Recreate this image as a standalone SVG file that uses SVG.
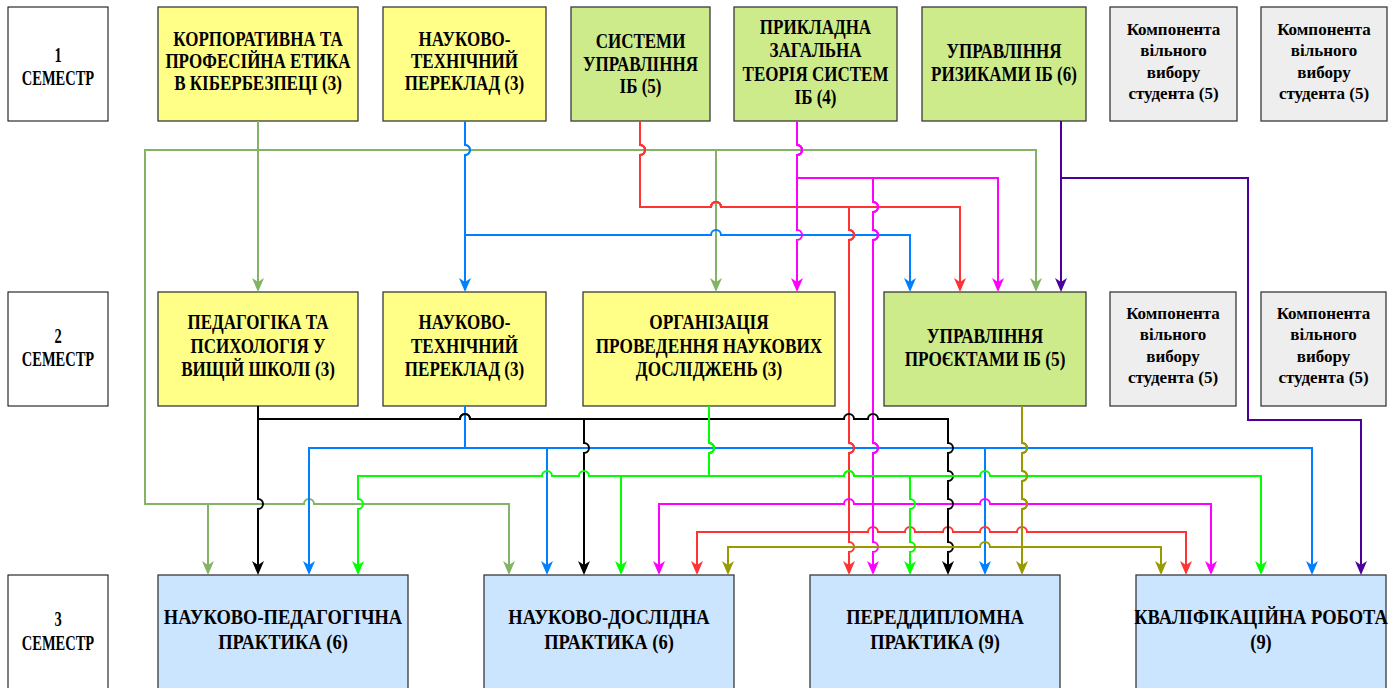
<svg xmlns="http://www.w3.org/2000/svg" width="1397" height="688" viewBox="0 0 1397 688">
<style>
.t{font-family:"Liberation Serif","Times New Roman",serif;font-weight:bold;font-size:21px;text-anchor:middle;fill:#000}
.s{font-family:"Liberation Serif","Times New Roman",serif;font-weight:bold;font-size:17px;text-anchor:middle;fill:#000}
.sem{fill:#fff;stroke:#000;stroke-width:1}
.y{fill:#ffff88;stroke:#36393d;stroke-width:1.3}
.g{fill:#cdeb8b;stroke:#36393d;stroke-width:1.3}
.gr{fill:#eeeeee;stroke:#36393d;stroke-width:1.3}
.b{fill:#cce5ff;stroke:#36393d;stroke-width:1.3}
#edges path{fill:none;stroke-width:2}
.cOG{stroke:#82b366;marker-end:url(#aOG)}
.cB{stroke:#007fff;marker-end:url(#aB)}
.cR{stroke:#ff3333;marker-end:url(#aR)}
.cM{stroke:#ff00ff;marker-end:url(#aM)}
.cP{stroke:#4c0099;marker-end:url(#aP)}
.cK{stroke:#000000;marker-end:url(#aK)}
.cG{stroke:#00ff00;marker-end:url(#aG)}
.cO{stroke:#999900;marker-end:url(#aO)}
</style>
<defs>
<marker id="aOG" markerUnits="userSpaceOnUse" markerWidth="14" markerHeight="12" viewBox="0 0 14 12" refX="11" refY="6" orient="auto"><path d="M0,0 L14,6 L0,12 L4,6 Z" fill="#82b366"/></marker>
<marker id="aB" markerUnits="userSpaceOnUse" markerWidth="14" markerHeight="12" viewBox="0 0 14 12" refX="11" refY="6" orient="auto"><path d="M0,0 L14,6 L0,12 L4,6 Z" fill="#007fff"/></marker>
<marker id="aR" markerUnits="userSpaceOnUse" markerWidth="14" markerHeight="12" viewBox="0 0 14 12" refX="11" refY="6" orient="auto"><path d="M0,0 L14,6 L0,12 L4,6 Z" fill="#ff3333"/></marker>
<marker id="aM" markerUnits="userSpaceOnUse" markerWidth="14" markerHeight="12" viewBox="0 0 14 12" refX="11" refY="6" orient="auto"><path d="M0,0 L14,6 L0,12 L4,6 Z" fill="#ff00ff"/></marker>
<marker id="aP" markerUnits="userSpaceOnUse" markerWidth="14" markerHeight="12" viewBox="0 0 14 12" refX="11" refY="6" orient="auto"><path d="M0,0 L14,6 L0,12 L4,6 Z" fill="#4c0099"/></marker>
<marker id="aK" markerUnits="userSpaceOnUse" markerWidth="14" markerHeight="12" viewBox="0 0 14 12" refX="11" refY="6" orient="auto"><path d="M0,0 L14,6 L0,12 L4,6 Z" fill="#000000"/></marker>
<marker id="aG" markerUnits="userSpaceOnUse" markerWidth="14" markerHeight="12" viewBox="0 0 14 12" refX="11" refY="6" orient="auto"><path d="M0,0 L14,6 L0,12 L4,6 Z" fill="#00ff00"/></marker>
<marker id="aO" markerUnits="userSpaceOnUse" markerWidth="14" markerHeight="12" viewBox="0 0 14 12" refX="11" refY="6" orient="auto"><path d="M0,0 L14,6 L0,12 L4,6 Z" fill="#999900"/></marker>
</defs>
<rect width="1397" height="688" fill="#ffffff"/>

<g id="sem1"><rect class="sem" x="8" y="7" width="100" height="114"/><text class="t" transform="translate(58,0) scale(0.69,1)"><tspan x="0" y="62">1</tspan><tspan x="0" y="85">СЕМЕСТР</tspan></text></g>
<g id="sem2"><rect class="sem" x="8" y="292" width="100" height="114"/><text class="t" transform="translate(58,0) scale(0.69,1)"><tspan x="0" y="343.5">2</tspan><tspan x="0" y="366.5">СЕМЕСТР</tspan></text></g>
<g id="sem3"><rect class="sem" x="8" y="575" width="100" height="130"/><text class="t" transform="translate(58,0) scale(0.69,1)"><tspan x="0" y="626.5">3</tspan><tspan x="0" y="650.5">СЕМЕСТР</tspan></text></g>

<g id="n_ethics"><rect class="y" x="158" y="7" width="200" height="114"/><text class="t" transform="translate(258,0) scale(0.81,1)"><tspan x="0" y="46">КОРПОРАТИВНА ТА</tspan><tspan x="0" y="68.5">ПРОФЕСІЙНА ЕТИКА</tspan><tspan x="0" y="90.5">В КІБЕРБЕЗПЕЦІ (3)</tspan></text></g>
<g id="n_transl1"><rect class="y" x="383" y="7" width="163" height="114"/><text class="t" transform="translate(464.5,0) scale(0.81,1)"><tspan x="0" y="46">НАУКОВО-</tspan><tspan x="0" y="68.5">ТЕХНІЧНИЙ</tspan><tspan x="0" y="90.5">ПЕРЕКЛАД (3)</tspan></text></g>
<g id="n_sys"><rect class="g" x="571" y="7" width="139" height="114"/><text class="t" transform="translate(640.5,0) scale(0.81,1)"><tspan x="0" y="48.5">СИСТЕМИ</tspan><tspan x="0" y="71">УПРАВЛІННЯ</tspan><tspan x="0" y="93.5">ІБ (5)</tspan></text></g>
<g id="n_theory"><rect class="g" x="734" y="7" width="163" height="114"/><text class="t" transform="translate(815.5,0) scale(0.81,1)"><tspan x="0" y="34">ПРИКЛАДНА</tspan><tspan x="0" y="57.5">ЗАГАЛЬНА</tspan><tspan x="0" y="81">ТЕОРІЯ СИСТЕМ</tspan><tspan x="0" y="104.5">ІБ (4)</tspan></text></g>
<g id="n_risk"><rect class="g" x="922" y="7" width="164" height="114"/><text class="t" transform="translate(1004,0) scale(0.81,1)"><tspan x="0" y="58">УПРАВЛІННЯ</tspan><tspan x="0" y="81">РИЗИКАМИ ІБ (6)</tspan></text></g>
<g id="n_free1a"><rect class="gr" x="1110" y="7" width="127" height="114"/><text class="s"><tspan x="1173.5" y="34.5">Компонента</tspan><tspan x="1173.5" y="56">вільного</tspan><tspan x="1173.5" y="77.5">вибору</tspan><tspan x="1173.5" y="98.5">студента (5)</tspan></text></g>
<g id="n_free1b"><rect class="gr" x="1261" y="7" width="126" height="114"/><text class="s"><tspan x="1324" y="34.5">Компонента</tspan><tspan x="1324" y="56">вільного</tspan><tspan x="1324" y="77.5">вибору</tspan><tspan x="1324" y="98.5">студента (5)</tspan></text></g>

<g id="n_ped"><rect class="y" x="158" y="292" width="200" height="114"/><text class="t" transform="translate(258,0) scale(0.81,1)"><tspan x="0" y="329.5">ПЕДАГОГІКА ТА</tspan><tspan x="0" y="353">ПСИХОЛОГІЯ У</tspan><tspan x="0" y="376.5">ВИЩІЙ ШКОЛІ (3)</tspan></text></g>
<g id="n_transl2"><rect class="y" x="383" y="292" width="163" height="114"/><text class="t" transform="translate(464.5,0) scale(0.81,1)"><tspan x="0" y="329.5">НАУКОВО-</tspan><tspan x="0" y="353">ТЕХНІЧНИЙ</tspan><tspan x="0" y="376.5">ПЕРЕКЛАД (3)</tspan></text></g>
<g id="n_org"><rect class="y" x="583" y="292" width="252" height="114"/><text class="t" transform="translate(709,0) scale(0.82,1)"><tspan x="0" y="329.5">ОРГАНІЗАЦІЯ</tspan><tspan x="0" y="353">ПРОВЕДЕННЯ НАУКОВИХ</tspan><tspan x="0" y="376.5">ДОСЛІДЖЕНЬ (3)</tspan></text></g>
<g id="n_proj"><rect class="g" x="884" y="292" width="202" height="114"/><text class="t" transform="translate(985,0) scale(0.82,1)"><tspan x="0" y="343.5">УПРАВЛІННЯ</tspan><tspan x="0" y="366.5">ПРОЄКТАМИ ІБ (5)</tspan></text></g>
<g id="n_free2a"><rect class="gr" x="1110" y="292" width="126" height="114"/><text class="s"><tspan x="1173" y="318.5">Компонента</tspan><tspan x="1173" y="340">вільного</tspan><tspan x="1173" y="361.5">вибору</tspan><tspan x="1173" y="383">студента (5)</tspan></text></g>
<g id="n_free2b"><rect class="gr" x="1261" y="292" width="125" height="114"/><text class="s"><tspan x="1323.5" y="318.5">Компонента</tspan><tspan x="1323.5" y="340">вільного</tspan><tspan x="1323.5" y="361.5">вибору</tspan><tspan x="1323.5" y="383">студента (5)</tspan></text></g>

<g id="n_pedprac"><rect class="b" x="158" y="575" width="250" height="130"/><text class="t" transform="translate(283,0) scale(0.88,1)"><tspan x="0" y="624.5">НАУКОВО-ПЕДАГОГІЧНА</tspan><tspan x="0" y="649.5">ПРАКТИКА (6)</tspan></text></g>
<g id="n_resprac"><rect class="b" x="484" y="575" width="250" height="130"/><text class="t" transform="translate(609,0) scale(0.88,1)"><tspan x="0" y="624.5">НАУКОВО-ДОСЛІДНА</tspan><tspan x="0" y="649.5">ПРАКТИКА (6)</tspan></text></g>
<g id="n_predip"><rect class="b" x="810" y="575" width="250" height="130"/><text class="t" transform="translate(935,0) scale(0.88,1)"><tspan x="0" y="624.5">ПЕРЕДДИПЛОМНА</tspan><tspan x="0" y="649.5">ПРАКТИКА (9)</tspan></text></g>
<g id="n_thesis"><rect class="b" x="1136" y="575" width="250" height="130"/><text class="t" transform="translate(1261,0) scale(0.88,1)"><tspan x="0" y="624.5">КВАЛІФІКАЦІЙНА РОБОТА</tspan><tspan x="0" y="649.5">(9)</tspan></text></g>

<g id="edges">
<path class="cOG" d="M258,121 V289"/>
<path class="cOG" d="M258,121 V150 H716 V289"/>
<path class="cOG" d="M258,121 V150 H1036 V289"/>
<path class="cOG" d="M258,121 V150 H145 V504 H208 V572"/>
<path class="cOG" d="M258,121 V150 H145 V504 H304 a5,5 0 0 1 10,0 H509 V572"/>

<path class="cB" d="M465,121 V145 a5,5 0 0 1 0,10 V289"/>
<path class="cB" d="M465,121 V145 a5,5 0 0 1 0,10 V235 H711 a5,5 0 0 1 10,0 H910 V289"/>
<path class="cB" d="M465,406 V448 H309 V572"/>
<path class="cB" d="M465,406 V448 H547 V572"/>
<path class="cB" d="M465,406 V448 H985 V572"/>
<path class="cB" d="M465,406 V448 H1312 V572"/>

<path class="cR" d="M640,121 V145 a5,5 0 0 1 0,10 V207 H711 a5,5 0 0 1 10,0 H960 V289"/>
<path class="cR" d="M640,121 V145 a5,5 0 0 1 0,10 V207 H711 a5,5 0 0 1 10,0 H849 V230 a5,5 0 0 1 0,10 V443 a5,5 0 0 1 0,10 V542 a5,5 0 0 1 0,10 V572"/>
<path class="cR" d="M640,121 V145 a5,5 0 0 1 0,10 V207 H711 a5,5 0 0 1 10,0 H849 V230 a5,5 0 0 1 0,10 V443 a5,5 0 0 1 0,10 V532 H697 V572"/>
<path class="cR" d="M640,121 V145 a5,5 0 0 1 0,10 V207 H711 a5,5 0 0 1 10,0 H849 V230 a5,5 0 0 1 0,10 V443 a5,5 0 0 1 0,10 V532 H868 a5,5 0 0 1 10,0 H905 a5,5 0 0 1 10,0 H943 a5,5 0 0 1 10,0 H980 a5,5 0 0 1 10,0 H1017 a5,5 0 0 1 10,0 H1186 V572"/>

<path class="cM" d="M797,121 V145 a5,5 0 0 1 0,10 V230 a5,5 0 0 1 0,10 V289"/>
<path class="cM" d="M797,121 V145 a5,5 0 0 1 0,10 V178 H998 V289"/>
<path class="cM" d="M797,121 V145 a5,5 0 0 1 0,10 V178 H873 V202 a5,5 0 0 1 0,10 V230 a5,5 0 0 1 0,10 V443 a5,5 0 0 1 0,10 V542 a5,5 0 0 1 0,10 V572"/>
<path class="cM" d="M797,121 V145 a5,5 0 0 1 0,10 V178 H873 V202 a5,5 0 0 1 0,10 V230 a5,5 0 0 1 0,10 V443 a5,5 0 0 1 0,10 V504 H854 a5,5 0 0 0 -10,0 H659 V572"/>
<path class="cM" d="M797,121 V145 a5,5 0 0 1 0,10 V178 H873 V202 a5,5 0 0 1 0,10 V230 a5,5 0 0 1 0,10 V443 a5,5 0 0 1 0,10 V504 H980 a5,5 0 0 1 10,0 H1211 V572"/>

<path class="cP" d="M1061,121 V289"/>
<path class="cP" d="M1061,121 V178 H1248 V420 H1361 V572"/>

<path class="cK" d="M258,406 V499 a5,5 0 0 1 0,10 V572"/>
<path class="cK" d="M258,406 V419 H460 a5,5 0 0 1 10,0 H584 V443 a5,5 0 0 1 0,10 V572"/>
<path class="cK" d="M258,406 V419 H460 a5,5 0 0 1 10,0 H844 a5,5 0 0 1 10,0 H868 a5,5 0 0 1 10,0 H948 V443 a5,5 0 0 1 0,10 V471 a5,5 0 0 1 0,10 V499 a5,5 0 0 1 0,10 V542 a5,5 0 0 1 0,10 V572"/>

<path class="cG" d="M709,406 V443 a5,5 0 0 1 0,10 V476 H589 a5,5 0 0 0 -10,0 H552 a5,5 0 0 0 -10,0 H358 V499 a5,5 0 0 1 0,10 V572"/>
<path class="cG" d="M709,406 V443 a5,5 0 0 1 0,10 V476 H621 V572"/>
<path class="cG" d="M709,406 V443 a5,5 0 0 1 0,10 V476 H844 a5,5 0 0 1 10,0 H910 V499 a5,5 0 0 1 0,10 V542 a5,5 0 0 1 0,10 V572"/>
<path class="cG" d="M709,406 V443 a5,5 0 0 1 0,10 V476 H844 a5,5 0 0 1 10,0 H980 a5,5 0 0 1 10,0 H1261 V572"/>

<path class="cO" d="M1022,406 V443 a5,5 0 0 1 0,10 V471 a5,5 0 0 1 0,10 V499 a5,5 0 0 1 0,10 V572"/>
<path class="cO" d="M1022,406 V443 a5,5 0 0 1 0,10 V471 a5,5 0 0 1 0,10 V499 a5,5 0 0 1 0,10 V547 H990 a5,5 0 0 0 -10,0 H728 V572"/>
<path class="cO" d="M1022,406 V443 a5,5 0 0 1 0,10 V471 a5,5 0 0 1 0,10 V499 a5,5 0 0 1 0,10 V547 H1161 V572"/>
</g>
</svg>
